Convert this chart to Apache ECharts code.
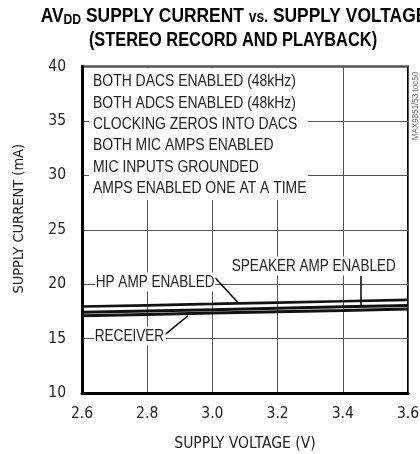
<!DOCTYPE html>
<html>
<head>
<meta charset="utf-8">
<script src="https://cdn.jsdelivr.net/npm/echarts@6/dist/echarts.min.js"></script>
<style>
html,body{margin:0;padding:0;background:#fff;}
#c{width:420px;height:454px;}
</style>
</head>
<body>
<div id="c"></div>
<script>
// Data
const xTicks = [2.6, 2.8, 3.0, 3.2, 3.4, 3.6];
const supplyVoltage = [2.6, 2.8, 3.0, 3.2, 3.4, 3.6];
const hpAmp = [17.95, 18.06, 18.18, 18.31, 18.43, 18.55];
const speakerAmp = [17.42, 17.54, 17.66, 17.79, 17.92, 18.05];
const receiver = [17.1, 17.22, 17.34, 17.47, 17.59, 17.72];
const conditions = [
  'BOTH DACS ENABLED (48kHz)',
  'BOTH ADCS ENABLED (48kHz)',
  'CLOCKING ZEROS INTO DACS',
  'BOTH MIC AMPS ENABLED',
  'MIC INPUTS GROUNDED',
  'AMPS ENABLED ONE AT A TIME'
];

const AXFONT = '"DejaVu Sans Condensed", "Liberation Sans", sans-serif';
const TFONT = '"Liberation Sans", Arial, sans-serif';
const NARROW = 0.82;
const chart = echarts.init(document.getElementById('c'), null, {renderer: 'canvas'});

function pairs(ys) { return supplyVoltage.map((x, i) => [x, ys[i]]); }

const arrowStyle = {color: '#000', width: 1.5, type: 'solid'};

function narrowText(x, y, text, size, opts) {
  opts = opts || {};
  return {
    type: 'text', z: opts.z || 6, x: x, y: y, scaleX: NARROW, scaleY: 1,
    style: Object.assign({
      text: text, x: 0, y: 0,
      align: opts.align || 'left', verticalAlign: opts.verticalAlign || 'middle',
      fontFamily: TFONT, fontSize: size, fill: '#222'
    }, opts.style || {})
  };
}

const option = {
  animation: false,
  grid: {left: 82, right: 12, top: 66.5, bottom: 61, show: true, borderColor: '#000', borderWidth: 2,
         containLabel: false, outerBoundsMode: 'none'},
  xAxis: {
    type: 'value', min: 2.6, max: 3.6, interval: 0.2,
    name: 'SUPPLY VOLTAGE (V)', nameLocation: 'middle', nameGap: 43,
    nameTextStyle: {fontFamily: AXFONT, fontSize: 15.5, color: '#222'},
    axisLine: {show: true, lineStyle: {color: '#000', width: 3}},
    axisTick: {show: false},
    axisLabel: {fontFamily: AXFONT, fontSize: 15.5, color: '#222', margin: 13, formatter: v => v.toFixed(1)},
    splitLine: {show: true, lineStyle: {color: '#555', width: 1}}
  },
  yAxis: {
    type: 'value', min: 10, max: 40, interval: 5,
    name: 'SUPPLY CURRENT (mA)', nameLocation: 'middle', nameGap: 55, nameRotate: 90,
    nameTextStyle: {fontFamily: AXFONT, fontSize: 14.5, color: '#222', padding: [0, 0, 0, 22]},
    axisLine: {show: true, lineStyle: {color: '#000', width: 3}},
    axisTick: {show: false},
    axisLabel: {fontFamily: AXFONT, fontSize: 15.5, color: '#222', margin: 16},
    splitLine: {show: true, lineStyle: {color: '#555', width: 1}}
  },
  series: [
    {
      name: 'HP AMP ENABLED', type: 'line', data: pairs(hpAmp), showSymbol: false, symbol: 'none',
      lineStyle: {color: '#111', width: 2.7}, z: 3,
      markLine: {
        silent: true, symbol: ['none', 'arrow'], symbolSize: [0, 11], label: {show: false},
        lineStyle: arrowStyle,
        data: [[{coord: [3.008, 20.6]}, {coord: [3.079, 18.3]}]]
      }
    },
    {
      name: 'SPEAKER AMP ENABLED', type: 'line', data: pairs(speakerAmp), showSymbol: false, symbol: 'none',
      lineStyle: {color: '#111', width: 3}, z: 3,
      markLine: {
        silent: true, symbol: ['none', 'arrow'], symbolSize: [0, 11], label: {show: false},
        lineStyle: arrowStyle,
        data: [[{coord: [3.456, 20.75]}, {coord: [3.456, 18.05]}]]
      }
    },
    {
      name: 'RECEIVER', type: 'line', data: pairs(receiver), showSymbol: false, symbol: 'none',
      lineStyle: {color: '#111', width: 3}, z: 3,
      markLine: {
        silent: true, symbol: ['none', 'arrow'], symbolSize: [0, 11], label: {show: false},
        lineStyle: arrowStyle,
        data: [[{coord: [2.848, 15.2]}, {coord: [2.925, 17.1]}]]
      }
    }
  ],
  graphic: [
    {type: 'text', z: 10, x: 234, y: 16, scaleX: 0.87, style: {
      text: '{a|AV}{s|DD}{a| SUPPLY CURRENT }{v|vs.}{a| SUPPLY VOLTAGE}',
      x: 0, y: 0, align: 'center', verticalAlign: 'middle',
      rich: {
        a: {fontFamily: TFONT, fontWeight: 'bold', fontSize: 20, fill: '#000'},
        s: {fontFamily: TFONT, fontWeight: 'bold', fontSize: 14, fill: '#000', padding: [8, 0, 0, 0]},
        v: {fontFamily: TFONT, fontWeight: 'bold', fontSize: 16, fill: '#000', padding: [4, 0, 0, 0]}
      }
    }},
    {type: 'text', z: 10, x: 233, y: 40, scaleX: NARROW, style: {
      text: '(STEREO RECORD AND PLAYBACK)', x: 0, y: 0, align: 'center', verticalAlign: 'middle',
      fontFamily: TFONT, fontWeight: 'bold', fontSize: 20, fill: '#000'
    }},
    {type: 'rect', z: 5, shape: {x: 89, y: 68, width: 219, height: 132}, style: {fill: '#fff'}},
    narrowText(93, 71, conditions.join('\n'), 17, {verticalAlign: 'top', style: {lineHeight: 21.3}}),
    narrowText(95, 282, 'HP AMP ENABLED', 16.5, {style: {backgroundColor: '#fff', padding: [1, 1, 1, 1]}}),
    narrowText(231, 266, 'SPEAKER AMP ENABLED', 16.5, {style: {backgroundColor: '#fff', padding: [1, 1, 1, 1]}}),
    narrowText(94, 336, 'RECEIVER', 16.5, {style: {backgroundColor: '#fff', padding: [1, 2, 1, 1]}}),
    {type: 'text', z: 6, rotation: Math.PI / 2, x: 415, y: 106, scaleX: 0.85, style: {
      text: 'MAX9851/53 toc50', x: 0, y: 0, align: 'center', verticalAlign: 'middle',
      fontFamily: TFONT, fontSize: 9.5, fill: '#666'
    }}
  ]
};
chart.setOption(option);
</script>
</body>
</html>
